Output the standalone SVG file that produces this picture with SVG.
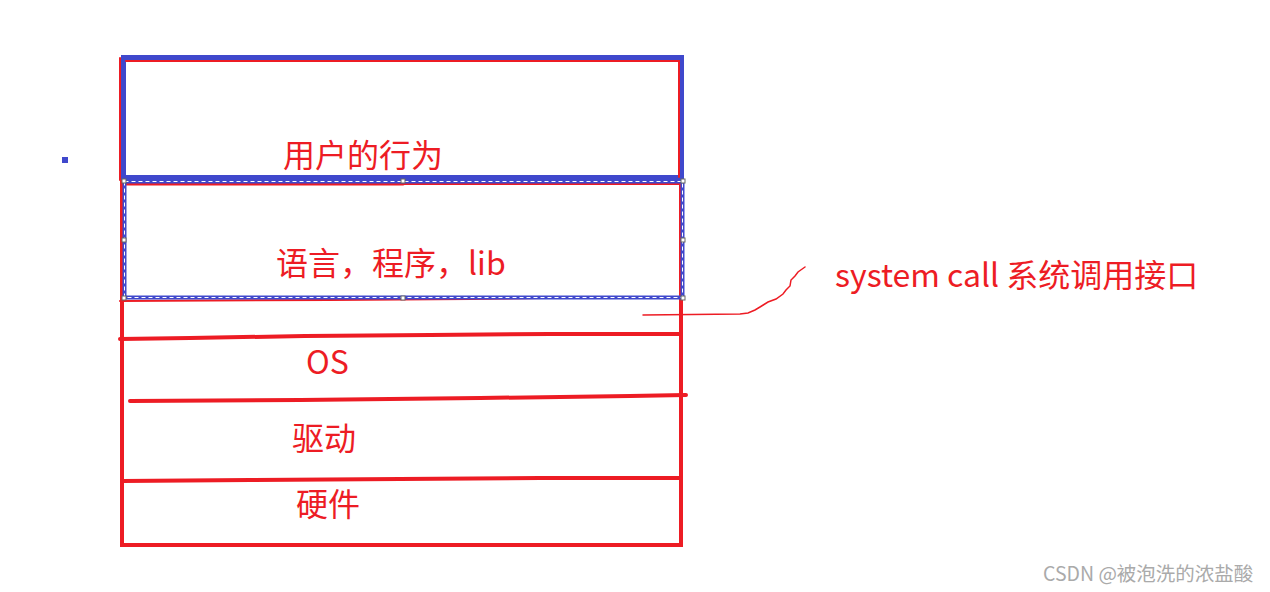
<svg xmlns="http://www.w3.org/2000/svg" width="1270" height="592" viewBox="0 0 1270 592">
<style>
.r{stroke:#ed1c24;fill:none;stroke-linecap:round}
.b{stroke:#3f48cc;fill:none}
.t{font-family:"Noto Sans CJK SC","Liberation Sans",sans-serif;fill:#ed1c24;font-size:32px}
.h{fill:#fff;stroke:#666;stroke-width:1}
</style>
<rect width="1270" height="592" fill="#fff"/>
<rect x="62" y="157" width="6" height="6" fill="#3f48cc"/>
<g id="os">
<path d="M122 180 V545 H681 V297" class="r" stroke-width="4" stroke-linecap="square"/>
<path d="M120 301 L330 300 L470 299 L610 297 L680 297" class="r" stroke-width="2"/>
<path d="M120 339 L190 338 L305 336 L430 335 L550 334 L679 334" class="r" stroke-width="4"/>
<text x="306" y="374" class="t">OS</text>
</g>
<g id="user">
<path d="M120 58 V180" class="r" stroke-width="2"/>
<rect x="123.5" y="57.5" width="558" height="120" class="b" stroke-width="5"/>
<path d="M126 61 H679 V177" class="r" stroke-width="2"/>
<text x="283" y="167" class="t">用户的行为</text>
</g>
<g id="lang">
<path d="M124 184 H403" class="r" stroke-width="3"/>
<path d="M403 184 H680" class="r" stroke-width="2"/>
<path d="M680 184 V296" class="r" stroke-width="2"/>
<rect x="124.5" y="181.5" width="558" height="116" class="b" stroke-width="4"/>
<rect x="124.5" y="181.5" width="558" height="116" fill="none" stroke="#fff" stroke-width="1" stroke-dasharray="4 3"/>
<g>
<rect x="122" y="179" width="4" height="4" class="h"/>
<rect x="401" y="179" width="4" height="4" class="h"/>
<rect x="681" y="179" width="4" height="4" class="h"/>
<rect x="122" y="238" width="4" height="4" class="h"/>
<rect x="681" y="238" width="4" height="4" class="h"/>
<rect x="122" y="296" width="4" height="4" class="h"/>
<rect x="401" y="296" width="4" height="4" class="h"/>
<rect x="681" y="296" width="4" height="4" class="h"/>
</g>
<text x="276" y="275" class="t">语言，程序，lib</text>
</g>
<g id="driver">
<path d="M130 401 L300 400 L480 398 L630 396 L686 395" class="r" stroke-width="4"/>
<text x="292" y="450" class="t">驱动</text>
</g>
<g id="hw">
<path d="M122 481 L250 480 L400 479 L540 478 L680 478" class="r" stroke-width="4"/>
<text x="296" y="516" class="t">硬件</text>
</g>
<g id="connectors">
<path d="M643 315 L740 314 L748 313 L755 310 L760 307 L768 302 L776 299 L783 294 L786 290 L790 286 L791 280 L795 276 L798 272 L805 267" class="r" stroke-width="1.5"/>
</g>
<g id="syscall">
<text x="835" y="287" class="t">system call 系统调用接口</text>
</g>
<text x="1043" y="581" font-family="Noto Sans CJK SC, Liberation Sans, sans-serif" font-size="19.5" fill="#aaa">CSDN @被泡洗的浓盐酸</text>
</svg>
